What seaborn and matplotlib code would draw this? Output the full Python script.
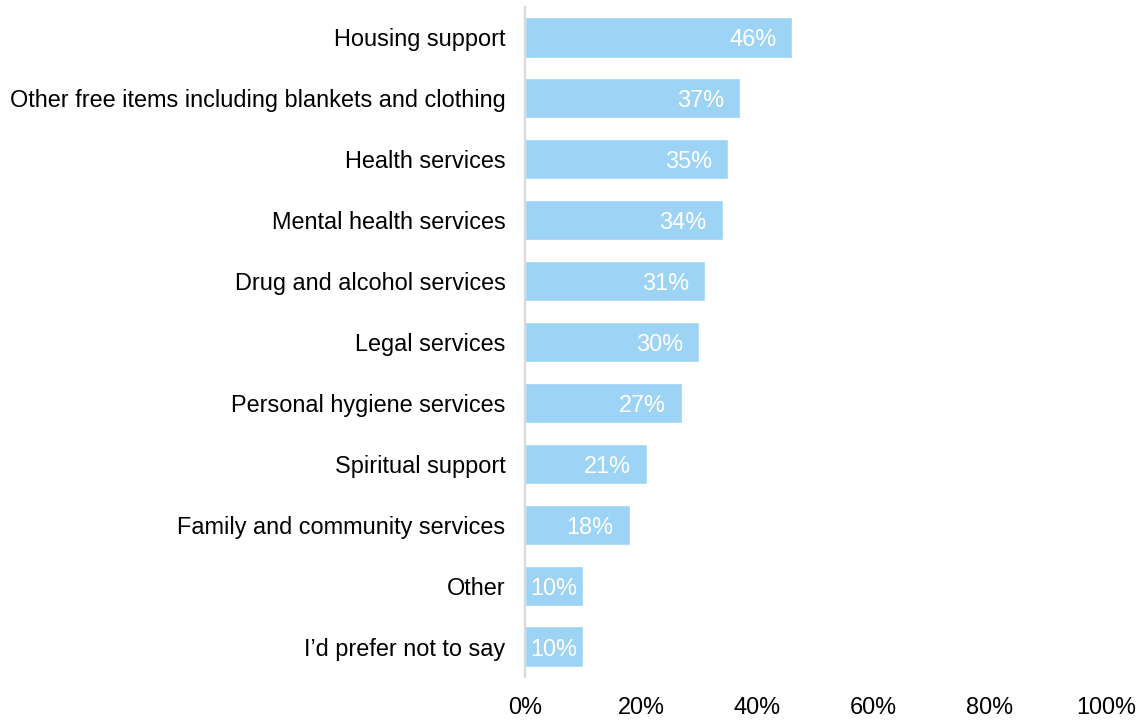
import matplotlib
matplotlib.use("Agg")
import matplotlib.pyplot as plt
import seaborn as sns
import pandas as pd

categories = [
    "Housing support",
    "Other free items including blankets and clothing",
    "Health services",
    "Mental health services",
    "Drug and alcohol services",
    "Legal services",
    "Personal hygiene services",
    "Spiritual support",
    "Family and community services",
    "Other",
    "I\u2019d prefer not to say",
]
values = [46, 37, 35, 34, 31, 30, 27, 21, 18, 10, 10]
x_ticks = [0, 20, 40, 60, 80, 100]
x_tick_labels = ["0%", "20%", "40%", "60%", "80%", "100%"]

sns.set_theme(style="white")
plt.rcParams["font.family"] = ["Liberation Sans", "DejaVu Sans"]

FS = 16.9
BAR_COLOR = "#9DD3F4"

df = pd.DataFrame({"category": categories, "value": values})

fig = plt.figure(figsize=(11.42, 7.22), dpi=100)
ax = fig.add_axes([525 / 1142, 1 - 677 / 722, 581 / 1142, 670 / 722])

sns.barplot(data=df, x="value", y="category", orient="h", color=BAR_COLOR,
            saturation=1, width=0.66, ax=ax)

ax.set_xlim(0, 100)
ax.set_ylim(10.5, -0.5)
ax.set_xticks(x_ticks)
ax.set_xticklabels(x_tick_labels, fontsize=FS, color="#000000")
ax.set_yticklabels(categories, fontsize=FS, color="#000000")
ax.tick_params(axis="x", length=0, pad=14)
ax.tick_params(axis="y", length=0, pad=14)
ax.set_xlabel("")
ax.set_ylabel("")

for side in ["top", "right", "bottom"]:
    ax.spines[side].set_visible(False)
ax.spines["left"].set_color("#D9D9D9")
ax.spines["left"].set_linewidth(1.6)
ax.spines["left"].set_zorder(5)

# value labels inside the bar ends
for i, v in enumerate(values):
    text = f"{v}%"
    if v > 15:
        ax.annotate(text, xy=(v, i), xytext=(-16, 0), textcoords="offset pixels",
                    ha="right", va="center_baseline", color="white", fontsize=FS)
    else:
        ax.text(v / 2, i, text, ha="center", va="center_baseline",
                color="white", fontsize=FS)

fig.savefig("out.png", dpi=100)
